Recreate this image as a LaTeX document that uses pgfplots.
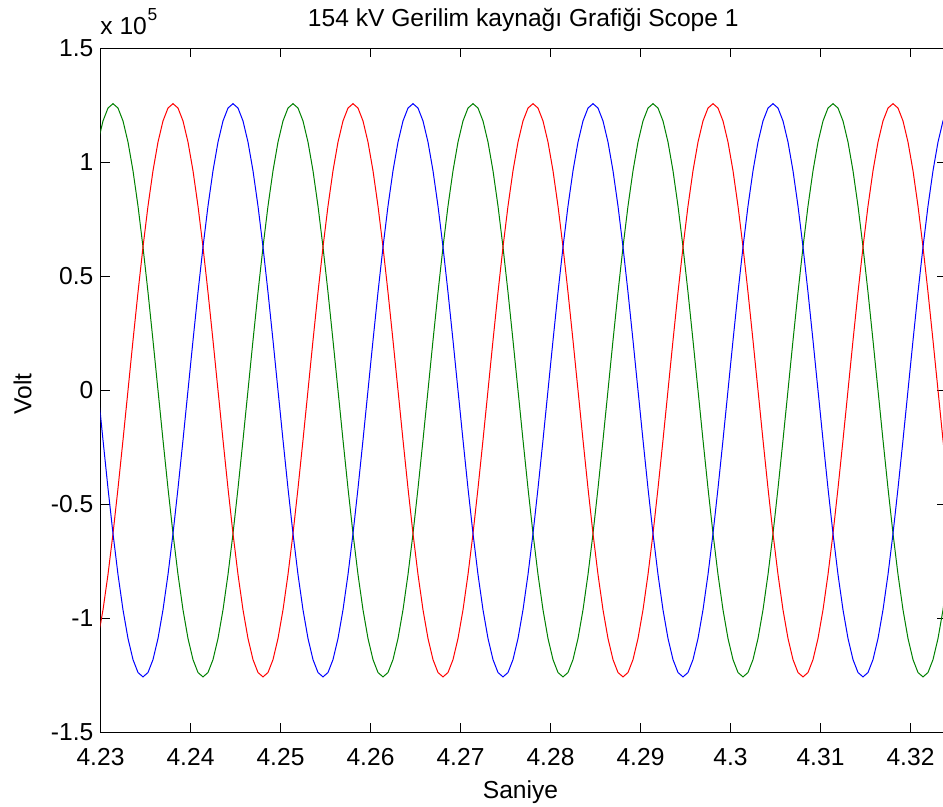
\documentclass[border=0pt]{standalone}
\usepackage{fontspec}
\setmainfont{Liberation Sans}
\usepackage{pgfplots}
\usepackage{pgfplotstable}
\pgfplotsset{compat=1.18}
\newcommand\fs{\fontsize{12.3}{14.8}\selectfont}
\definecolor{mgreen}{RGB}{0,128,0}
\definecolor{mred}{RGB}{255,0,0}
\definecolor{mblue}{RGB}{0,0,255}
\pgfplotstableread{
t g r b
4.229722 108860 -108860 0
4.230278 118120 -96290 -21830
4.230833 123790 -80800 -42990
4.231389 125700 -62850 -62850
4.231944 123790 -42990 -80800
4.232500 118120 -21830 -96290
4.233056 108860 0 -108860
4.233611 96290 21830 -118120
4.234167 80800 42990 -123790
4.234722 62850 62850 -125700
4.235278 42990 80800 -123790
4.235833 21830 96290 -118120
4.236389 0 108860 -108860
4.236944 -21830 118120 -96290
4.237500 -42990 123790 -80800
4.238056 -62850 125700 -62850
4.238611 -80800 123790 -42990
4.239167 -96290 118120 -21830
4.239722 -108860 108860 0
4.240278 -118120 96290 21830
4.240833 -123790 80800 42990
4.241389 -125700 62850 62850
4.241944 -123790 42990 80800
4.242500 -118120 21830 96290
4.243056 -108860 0 108860
4.243611 -96290 -21830 118120
4.244167 -80800 -42990 123790
4.244722 -62850 -62850 125700
4.245278 -42990 -80800 123790
4.245833 -21830 -96290 118120
4.246389 0 -108860 108860
4.246944 21830 -118120 96290
4.247500 42990 -123790 80800
4.248056 62850 -125700 62850
4.248611 80800 -123790 42990
4.249167 96290 -118120 21830
4.249722 108860 -108860 0
4.250278 118120 -96290 -21830
4.250833 123790 -80800 -42990
4.251389 125700 -62850 -62850
4.251944 123790 -42990 -80800
4.252500 118120 -21830 -96290
4.253056 108860 0 -108860
4.253611 96290 21830 -118120
4.254167 80800 42990 -123790
4.254722 62850 62850 -125700
4.255278 42990 80800 -123790
4.255833 21830 96290 -118120
4.256389 0 108860 -108860
4.256944 -21830 118120 -96290
4.257500 -42990 123790 -80800
4.258056 -62850 125700 -62850
4.258611 -80800 123790 -42990
4.259167 -96290 118120 -21830
4.259722 -108860 108860 0
4.260278 -118120 96290 21830
4.260833 -123790 80800 42990
4.261389 -125700 62850 62850
4.261944 -123790 42990 80800
4.262500 -118120 21830 96290
4.263056 -108860 0 108860
4.263611 -96290 -21830 118120
4.264167 -80800 -42990 123790
4.264722 -62850 -62850 125700
4.265278 -42990 -80800 123790
4.265833 -21830 -96290 118120
4.266389 0 -108860 108860
4.266944 21830 -118120 96290
4.267500 42990 -123790 80800
4.268056 62850 -125700 62850
4.268611 80800 -123790 42990
4.269167 96290 -118120 21830
4.269722 108860 -108860 0
4.270278 118120 -96290 -21830
4.270833 123790 -80800 -42990
4.271389 125700 -62850 -62850
4.271944 123790 -42990 -80800
4.272500 118120 -21830 -96290
4.273056 108860 0 -108860
4.273611 96290 21830 -118120
4.274167 80800 42990 -123790
4.274722 62850 62850 -125700
4.275278 42990 80800 -123790
4.275833 21830 96290 -118120
4.276389 0 108860 -108860
4.276944 -21830 118120 -96290
4.277500 -42990 123790 -80800
4.278056 -62850 125700 -62850
4.278611 -80800 123790 -42990
4.279167 -96290 118120 -21830
4.279722 -108860 108860 0
4.280278 -118120 96290 21830
4.280833 -123790 80800 42990
4.281389 -125700 62850 62850
4.281944 -123790 42990 80800
4.282500 -118120 21830 96290
4.283056 -108860 0 108860
4.283611 -96290 -21830 118120
4.284167 -80800 -42990 123790
4.284722 -62850 -62850 125700
4.285278 -42990 -80800 123790
4.285833 -21830 -96290 118120
4.286389 0 -108860 108860
4.286944 21830 -118120 96290
4.287500 42990 -123790 80800
4.288056 62850 -125700 62850
4.288611 80800 -123790 42990
4.289167 96290 -118120 21830
4.289722 108860 -108860 0
4.290278 118120 -96290 -21830
4.290833 123790 -80800 -42990
4.291389 125700 -62850 -62850
4.291944 123790 -42990 -80800
4.292500 118120 -21830 -96290
4.293056 108860 0 -108860
4.293611 96290 21830 -118120
4.294167 80800 42990 -123790
4.294722 62850 62850 -125700
4.295278 42990 80800 -123790
4.295833 21830 96290 -118120
4.296389 0 108860 -108860
4.296944 -21830 118120 -96290
4.297500 -42990 123790 -80800
4.298056 -62850 125700 -62850
4.298611 -80800 123790 -42990
4.299167 -96290 118120 -21830
4.299722 -108860 108860 0
4.300278 -118120 96290 21830
4.300833 -123790 80800 42990
4.301389 -125700 62850 62850
4.301944 -123790 42990 80800
4.302500 -118120 21830 96290
4.303056 -108860 0 108860
4.303611 -96290 -21830 118120
4.304167 -80800 -42990 123790
4.304722 -62850 -62850 125700
4.305278 -42990 -80800 123790
4.305833 -21830 -96290 118120
4.306389 0 -108860 108860
4.306944 21830 -118120 96290
4.307500 42990 -123790 80800
4.308056 62850 -125700 62850
4.308611 80800 -123790 42990
4.309167 96290 -118120 21830
4.309722 108860 -108860 0
4.310278 118120 -96290 -21830
4.310833 123790 -80800 -42990
4.311389 125700 -62850 -62850
4.311944 123790 -42990 -80800
4.312500 118120 -21830 -96290
4.313056 108860 0 -108860
4.313611 96290 21830 -118120
4.314167 80800 42990 -123790
4.314722 62850 62850 -125700
4.315278 42990 80800 -123790
4.315833 21830 96290 -118120
4.316389 0 108860 -108860
4.316944 -21830 118120 -96290
4.317500 -42990 123790 -80800
4.318056 -62850 125700 -62850
4.318611 -80800 123790 -42990
4.319167 -96290 118120 -21830
4.319722 -108860 108860 0
4.320278 -118120 96290 21830
4.320833 -123790 80800 42990
4.321389 -125700 62850 62850
4.321944 -123790 42990 80800
4.322500 -118120 21830 96290
4.323056 -108860 0 108860
4.323611 -96290 -21830 118120
4.324167 -80800 -42990 123790
}\data
\begin{document}
\begin{tikzpicture}
\begin{axis}[
  name=ax, at={(0,0)}, anchor=south west,
  scale only axis, width=422.75pt, height=342pt,
  xmin=4.23, xmax=4.323944, ymin=-150000, ymax=150000,
  xtick={4.23,4.24,4.25,4.26,4.27,4.28,4.29,4.30,4.31,4.32},
  xticklabels={4.23,4.24,4.25,4.26,4.27,4.28,4.29,4.3,4.31,4.32},
  ytick={-150000,-100000,-50000,0,50000,100000,150000},
  yticklabels={-1.5,-1,-0.5,0,0.5,1,1.5},
  scaled x ticks=false, scaled y ticks=false,
  tick align=inside, major tick length=4.5pt,
  every tick/.style={black, line width=0.5pt},
  axis line style={line width=0.6pt},
  tick label style={font=\fs, inner sep=0pt},
  xticklabel style={anchor=base, yshift=-16.5pt},
  yticklabel style={anchor=east, xshift=-3.4pt},
]
\addplot[mgreen, line width=0.5pt] table[x=t,y=g]{\data};
\addplot[mred, line width=0.5pt] table[x=t,y=r]{\data};
\addplot[mblue, line width=0.5pt] table[x=t,y=b]{\data};
\end{axis}
\node[font=\fs, anchor=base, inner sep=0pt] at (211.4pt,352.65pt) {154 kV Gerilim kaynağı Grafiği Scope 1};
\node[font=\fs, anchor=base west, inner sep=0pt] at (-0.25pt,348.65pt) {x 10\hspace{0.4pt}\raisebox{7.2pt}{\fontsize{8.7}{10}\selectfont 5}};
\node[font=\fs, anchor=base, inner sep=0pt] at (210pt,-33pt) {Saniye};
\node[font=\fs, anchor=base, inner sep=0pt, rotate=90] at (-34.5pt,169.15pt) {Volt};
\pgfresetboundingbox
\path[use as bounding box] (-50.25pt,-37.35pt) rectangle (421.25pt,366.15pt);
\end{tikzpicture}
\end{document}
